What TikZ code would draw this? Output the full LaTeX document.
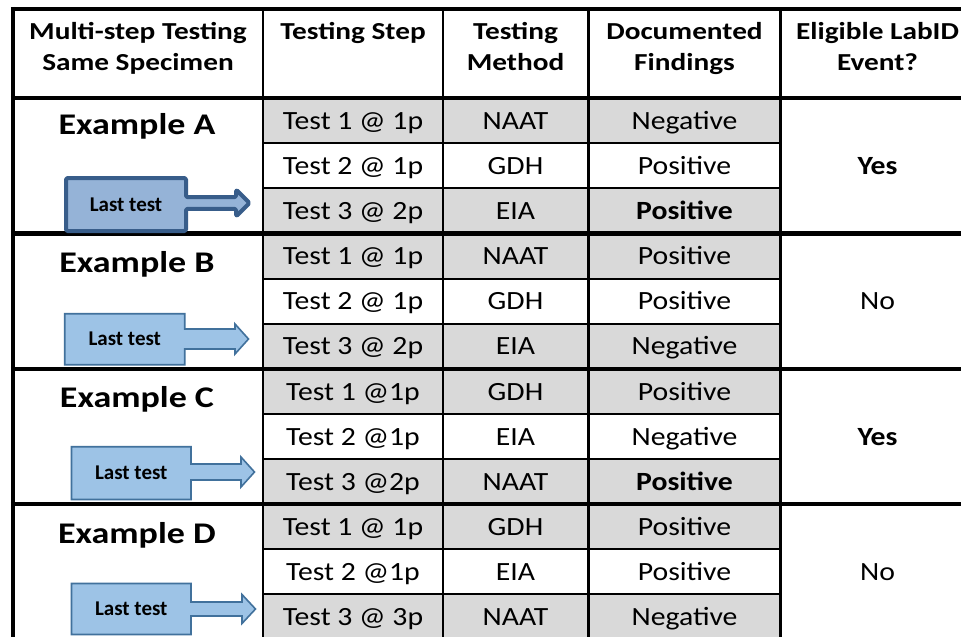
\documentclass[tikz,border=0pt]{standalone}
\usepackage{fontspec}
\setmainfont{Carlito}
\newfontfamily\fbody[FakeStretch=1.13]{Carlito}
\newfontfamily\fhead[FakeStretch=1.2]{Carlito}
\definecolor{cellgray}{HTML}{D9D9D9}
\definecolor{darkfill}{HTML}{95B3D7}
\definecolor{darkline}{HTML}{385D8A}
\definecolor{lightfill}{HTML}{9DC3E6}
\definecolor{lightline}{HTML}{41719C}
\tikzset{
  cell/.style={anchor=base, inner sep=0pt, font=\fbody\fontsize{26.3}{31}\selectfont},
  hdr/.style={anchor=base, inner sep=0pt, font=\fhead\bfseries\fontsize{24.4}{31}\selectfont},
  exm/.style={anchor=base, inner sep=0pt, font=\fhead\bfseries\fontsize{30}{36}\selectfont},
  lbl/.style={anchor=center, inner sep=0pt, font=\bfseries\fontsize{21}{25}\selectfont},
  thickrule/.style={line width=4.5pt, black},
  colrule/.style={line width=2.3pt, black},
  rowrule/.style={line width=1.8pt, black},
  darkarrow/.style={fill=darkfill, draw=darkline, line width=4pt, rounded corners=1.5pt, line join=round},
  lightarrow/.style={fill=lightfill, draw=lightline, line width=1.6pt, line join=miter}
}
\begin{document}
\begin{tikzpicture}[x=1pt,y=-1pt]
\fill[white] (0,0) rectangle (961,637);
\useasboundingbox (0,0) rectangle (961,637);
\clip (0,0) rectangle (961,637);
% gray cells
\foreach \t in {98,233.5,369,504} {
  \fill[cellgray] (263,\t) rectangle (780.5,\t+45.1);
  \fill[cellgray] (263,\t+90.2) rectangle (780.5,\t+135.3);
  \draw[rowrule] (263,\t+45.1) -- (780.5,\t+45.1);
  \draw[rowrule] (263,\t+90.2) -- (780.5,\t+90.2);
}
% column rules
\foreach \x in {263,443,588.5,780.5} {
  \draw[colrule] (\x,9) -- (\x,645);
}
% thick rules
\foreach \y in {9,98,233.5,369,504,639.3} {
  \draw[thickrule] (10.75,\y) -- (980,\y);
}
\draw[thickrule] (13,6.75) -- (13,645);
% header
\node[hdr] (h1a) at (138,39.5) {Multi-step Testing};
\node[hdr] (h1b) at (138,70.5) {Same Specimen};
\node[hdr] (h2a) at (353,39.5) {Testing Step};
\node[hdr] (h3a) at (515.5,39.5) {Testing};
\node[hdr] (h3b) at (515.5,70.5) {Method};
\node[hdr] (h4a) at (684.5,39.5) {Documented};
\node[hdr] (h4b) at (684.5,70.5) {Findings};
\node[hdr] (h5a) at (877.5,39.5) {Eligible LabID};
\node[hdr] (h5b) at (877.5,70.5) {Event?};
% examples
\node[exm] (exA) at (137,134.3) {Example A};
\node[exm] (exB) at (137,272) {Example B};
\node[exm] (exC) at (137,407.5) {Example C};
\node[exm] (exD) at (137,543) {Example D};
% group A rows (top 98)
\node[cell] (a1s) at (353,129) {Test 1 @ 1p};
\node[cell] (a1m) at (515.5,129) {NAAT};
\node[cell] (a1f) at (684.5,129) {Negative};
\node[cell] (a2s) at (353,174.1) {Test 2 @ 1p};
\node[cell] (a2m) at (515.5,174.1) {GDH};
\node[cell] (a2f) at (684.5,174.1) {Positive};
\node[cell] (a3s) at (353,219.2) {Test 3 @ 2p};
\node[cell] (a3m) at (515.5,219.2) {EIA};
\node[cell] (a3f) at (684.5,219.2) {\bfseries Positive};
\node[cell] (aE) at (877.5,174.1) {\bfseries Yes};
% group B (top 233.5)
\node[cell] (b1s) at (353,264.5) {Test 1 @ 1p};
\node[cell] (b1m) at (515.5,264.5) {NAAT};
\node[cell] (b1f) at (684.5,264.5) {Positive};
\node[cell] (b2s) at (353,309.6) {Test 2 @ 1p};
\node[cell] (b2m) at (515.5,309.6) {GDH};
\node[cell] (b2f) at (684.5,309.6) {Positive};
\node[cell] (b3s) at (353,354.7) {Test 3 @ 2p};
\node[cell] (b3m) at (515.5,354.7) {EIA};
\node[cell] (b3f) at (684.5,354.7) {Negative};
\node[cell] (bE) at (877.5,309.6) {No};
% group C (top 369)
\node[cell] (c1s) at (353,400) {Test 1 @1p};
\node[cell] (c1m) at (515.5,400) {GDH};
\node[cell] (c1f) at (684.5,400) {Positive};
\node[cell] (c2s) at (353,445.1) {Test 2 @1p};
\node[cell] (c2m) at (515.5,445.1) {EIA};
\node[cell] (c2f) at (684.5,445.1) {Negative};
\node[cell] (c3s) at (353,490.2) {Test 3 @2p};
\node[cell] (c3m) at (515.5,490.2) {NAAT};
\node[cell] (c3f) at (684.5,490.2) {\bfseries Positive};
\node[cell] (cE) at (877.5,445.1) {\bfseries Yes};
% group D (top 504)
\node[cell] (d1s) at (353,535) {Test 1 @ 1p};
\node[cell] (d1m) at (515.5,535) {GDH};
\node[cell] (d1f) at (684.5,535) {Positive};
\node[cell] (d2s) at (353,580.1) {Test 2 @1p};
\node[cell] (d2m) at (515.5,580.1) {EIA};
\node[cell] (d2f) at (684.5,580.1) {Positive};
\node[cell] (d3s) at (353,625.2) {Test 3 @ 3p};
\node[cell] (d3m) at (515.5,625.2) {NAAT};
\node[cell] (d3f) at (684.5,625.2) {Negative};
\node[cell] (dE) at (877.5,580.1) {No};
% arrows
\draw[darkarrow] (66,178) -- (186,178) -- (186,197.2) -- (236,197.2) -- (236,189.5)
  -- (249.5,203) -- (236,216.5) -- (236,208.8) -- (186,208.8) -- (186,231) -- (66,231) -- cycle;
\node[lbl] (lA) at (126,204.5) {Last test};
\draw[lightarrow] (64.75,313.75) -- (184.75,313.75) -- (184.75,329) -- (235,329) -- (235,324)
  -- (248.5,339) -- (235,354) -- (235,349) -- (184.75,349) -- (184.75,364.75) -- (64.75,364.75) -- cycle;
\node[lbl] (lB) at (124.75,339.25) {Last test};
\draw[lightarrow] (71.5,446.75) -- (191,446.75) -- (191,464) -- (241,464) -- (241,457)
  -- (254.5,472) -- (241,487) -- (241,480) -- (191,480) -- (191,499.5) -- (71.5,499.5) -- cycle;
\node[lbl] (lC) at (131.25,473) {Last test};
\draw[lightarrow] (71.5,583.5) -- (191,583.5) -- (191,602) -- (242,602) -- (242,594.5)
  -- (255.5,609) -- (242,623.5) -- (242,616) -- (191,616) -- (191,634.5) -- (71.5,634.5) -- cycle;
\node[lbl] (lD) at (131.25,609) {Last test};
\end{tikzpicture}
\end{document}
